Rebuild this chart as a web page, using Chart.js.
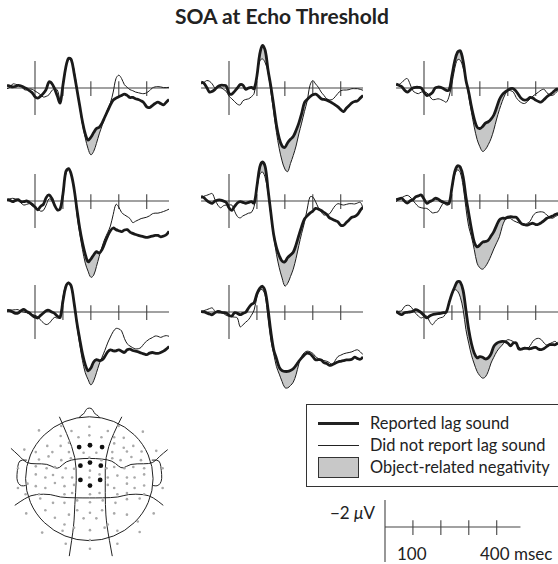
<!DOCTYPE html>
<html>
<head>
<meta charset="utf-8">
<script src="https://cdn.jsdelivr.net/npm/chart.js@4.4.1/dist/chart.umd.min.js"></script>
<style>
  body { margin: 0; width: 558px; height: 564px; overflow: hidden; background: #fff; position: relative;
         font-family: Lato, "Open Sans", sans-serif; color: #222; }
  canvas { position: absolute; }
  .txt { position: absolute; white-space: nowrap; line-height: 1; }
  #title { left: 0; width: 564px; top: 4.5px; text-align: center; font-weight: 700; font-size: 21px; }
  #legendBox { position: absolute; left: 306px; top: 404px; width: 270px; height: 81px; border: 1px solid #333; }
  .sw { position: absolute; left: 318px; width: 41px; background: #222; }
  .leg { left: 370px; font-size: 16.4px; }
</style>
</head>
<body>
<div id="title" class="txt">SOA at Echo Threshold</div>

<div id="legendBox"></div>
<div class="sw" style="top:421.5px;height:3px"></div>
<div class="sw" style="top:444.5px;height:1px"></div>
<div class="sw" style="top:457px;height:19px;background:#c8c8c8;border:1px solid #333;width:39px"></div>
<div class="txt leg" style="top:415px">Reported lag sound</div>
<div class="txt leg" style="top:437px">Did not report lag sound</div>
<div class="txt leg" style="top:459px">Object-related negativity</div>

<div class="txt" style="left:330px;top:504px;font-size:17px">&minus;2 <i>&mu;</i>V</div>
<div class="txt" style="left:397px;top:545px;font-size:17px">100</div>
<div class="txt" style="left:480px;top:545px;font-size:17px">400 msec</div>

<script>
// time axis (ms) shared by all panels
const times = [-100, -90, -80, -70, -60, -50, -40, -30, -20, -10,
  0, 10, 20, 30, 40, 50, 60, 70, 80, 90,
  100, 110, 120, 130, 140, 150, 160, 170, 180, 190,
  200, 210, 220, 230, 240, 250, 260, 270, 280, 290,
  300, 310, 320, 330, 340, 350, 360, 370, 380, 390,
  400, 410, 420, 430, 440, 450, 460, 470, 480];

// microvolts, negative plotted up
const reported1 = [-0.2,-0.15,-0.08,-0.12,-0.2,-0.15,-0.05,0.05,0.2,0.35, 0.65,0.75,0.6,0.4,0.1,-0.45,-0.35,0.05,0.6,1.1, -0.2,-1.5,-2.2,-2.1,-1.1,0.1,1.3,2.5,3.4,3.85, 3.65,3.3,3.0,2.9,2.6,2.15,1.7,1.25,0.9,0.75, 0.65,0.55,0.45,0.55,0.7,0.7,0.8,0.85,0.95,1.1, 1.4,1.45,1.3,1.15,1.05,1.15,1.25,1.05,0.85];
const notReported1 = [0.05,-0.05,-0.3,-0.28,-0.22,-0.15,0.1,0.15,0.07,0.1, 0.22,0.35,0.5,0.67,0.62,0.5,0.2,0.05,0.15,0.85, -0.1,-1.5,-2.15,-2.0,-1.3,0.0,1.4,2.7,3.7,4.5, 4.95,4.7,4.1,3.4,2.8,2.15,1.6,1.1,0.3,-0.7, -0.95,-0.7,-0.25,-0.05,0.12,0.2,0.3,0.35,0.4,0.42, 0.35,0.2,0.0,-0.08,-0.1,-0.08,-0.03,-0.03,-0.05];

const reported2 = [-0.45,-0.35,-0.05,0.3,0.25,0.1,-0.1,-0.2,-0.2,-0.15, 0.4,0.45,0.25,0.0,-0.25,-0.2,0.1,0.0,-0.05,0.05, -0.9,-2.5,-3.15,-2.75,-1.3,-0.1,1.3,2.75,3.75,4.3, 4.4,4.05,3.8,3.6,3.15,2.6,1.9,1.1,0.85,0.65, 0.5,0.45,0.6,0.8,0.85,0.9,1.0,1.12,1.25,1.4, 1.6,1.75,1.5,1.3,1.1,1.0,0.95,0.75,0.55];
const notReported2 = [-0.3,-0.4,-0.55,-0.5,-0.3,0.0,-0.1,-0.05,0.1,0.25, 0.6,0.8,1.0,1.2,1.25,0.95,0.85,0.8,0.65,0.4, -0.9,-2.0,-2.15,-1.85,-1.15,0.3,1.8,3.3,4.5,5.4, 6.0,6.2,5.6,5.0,4.3,3.4,2.6,1.75,0.95,-0.2, -0.55,-0.3,-0.05,0.3,0.55,0.8,0.88,0.85,0.65,0.4, 0.2,0.15,0.15,0.12,0.05,0.05,0.05,0.1,0.17];

const reported3 = [-0.3,-0.2,-0.1,0.15,0.3,0.15,0.0,-0.05,-0.05,0.0, 0.3,0.55,0.5,0.35,0.0,-0.07,-0.05,0.05,0.17,0.15, -0.9,-2.0,-2.65,-2.75,-2.0,-0.6,0.3,1.4,2.3,2.9, 3.0,2.85,2.6,2.5,2.3,2.0,1.45,0.85,0.5,0.3, 0.17,0.05,0.05,0.25,0.55,0.8,0.9,0.85,0.7,0.75, 0.9,1.0,1.04,0.85,0.65,0.5,0.35,0.15,0.05];
const notReported3 = [-0.2,-0.25,-0.4,-0.6,-0.7,-0.3,0.2,0.35,0.42,0.3, 0.3,0.35,0.6,0.85,0.85,0.8,0.85,0.95,1.05,0.6, -0.3,-1.45,-2.1,-2.05,-1.5,-0.7,0.6,1.8,2.9,3.8, 4.35,4.7,4.55,4.2,3.75,3.1,2.3,1.6,1.0,0.5, 0.2,0.2,0.3,0.7,0.95,1.1,1.15,1.0,0.8,0.6, 0.45,0.3,0.15,0.1,0.35,0.5,0.55,0.4,0.17];

const reported4 = [-0.12,-0.05,0.05,-0.05,-0.1,0.05,0.05,0.0,0.1,0.25, 0.45,0.65,0.4,0.25,-0.25,-0.45,-0.2,0.3,0.65,0.6, -0.5,-2.15,-2.4,-1.95,-0.9,0.6,2.0,3.1,3.95,4.5, 4.3,4.0,3.75,3.85,3.6,3.1,2.6,2.2,2.0,2.12, 2.2,2.27,2.15,2.12,2.3,2.4,2.48,2.55,2.6,2.65, 2.7,2.65,2.6,2.55,2.55,2.65,2.6,2.5,2.25];
const notReported4 = [-0.05,-0.15,-0.2,-0.15,-0.1,0.15,0.3,0.25,0.2,0.35, 0.5,0.6,0.75,0.7,0.3,-0.15,-0.05,0.3,0.65,0.5, -0.7,-1.95,-2.35,-1.9,-0.9,1.0,2.4,3.6,4.6,5.2, 5.65,5.5,4.85,4.1,3.4,2.8,2.35,1.85,1.0,0.25, 0.45,0.85,1.02,1.15,1.3,1.6,1.5,1.4,1.3,1.25, 1.2,1.1,0.95,0.9,0.9,0.85,0.78,0.7,0.6];

const reported5 = [-0.35,-0.25,-0.05,0.1,0.17,0.0,-0.07,-0.07,0.0,0.1, 0.5,0.7,0.4,0.15,0.05,0.1,0.17,0.1,0.05,0.15, -1.1,-2.5,-2.9,-2.5,-0.8,0.9,2.5,3.45,4.05,4.45, 4.5,4.2,4.0,3.8,3.25,2.55,1.9,1.35,1.1,0.9, 0.75,0.55,0.6,0.7,0.85,1.0,1.25,1.35,1.45,1.55, 1.8,1.8,1.6,1.4,1.2,1.15,1.0,0.7,0.45];
const notReported5 = [-0.2,-0.35,-0.42,-0.5,-0.55,-0.1,0.3,0.5,0.35,0.3, 0.3,0.3,0.75,1.15,1.25,1.1,1.0,0.9,0.85,0.4, -0.95,-1.95,-2.15,-1.7,-0.6,1.1,2.6,3.95,4.95,5.7, 6.3,6.1,5.6,5.05,4.25,3.3,2.4,1.6,0.6,-0.3, -0.3,0.05,0.5,0.8,1.04,1.0,0.95,0.65,0.35,0.2, 0.25,0.3,0.25,0.2,0.2,0.22,0.15,0.1,0.5];

const reported6 = [-0.1,-0.15,-0.2,0.0,0.15,0.0,-0.1,-0.3,-0.38,-0.44, -0.15,0.17,0.05,-0.05,-0.2,-0.15,0.0,0.1,0.17,0.17, -1.0,-2.15,-2.6,-2.5,-1.8,-0.32,0.9,2.1,3.05,3.4, 3.25,3.05,3.0,2.9,2.6,2.27,1.8,1.4,1.28,1.28, 1.2,1.16,1.2,1.2,1.45,1.7,1.75,1.78,1.7,1.65, 1.75,1.72,1.6,1.45,1.28,1.2,1.12,1.0,0.92];
const notReported6 = [0.05,-0.1,-0.25,-0.35,-0.42,-0.3,-0.05,0.2,0.42,0.5, 0.54,0.55,0.7,0.88,0.85,0.8,0.45,0.17,0.3,0.25, -0.9,-1.95,-2.3,-2.1,-1.1,0.5,1.9,2.65,3.6,4.6, 4.95,5.05,4.85,4.5,4.05,3.55,3.1,2.65,1.9,1.4, 1.28,1.3,1.45,1.55,1.63,1.7,1.78,1.65,1.5,1.1, 0.88,0.82,0.8,0.85,1.05,1.2,1.28,1.15,1.04];

const reported7 = [-0.12,-0.1,0.0,0.1,0.07,-0.1,-0.2,-0.05,0.07,0.25, 0.38,0.44,0.25,0.07,-0.1,-0.12,0.0,0.1,0.3,0.4, -0.8,-1.85,-2.15,-1.9,-0.67,0.8,2.0,3.1,3.9,4.35, 4.15,3.7,3.53,3.6,3.55,3.3,2.95,2.8,2.88,2.88, 2.8,2.9,3.0,2.8,2.75,2.85,2.9,2.95,3.04,3.1, 3.16,3.05,3.0,3.05,3.07,3.0,2.9,2.75,2.55];
const notReported7 = [-0.05,-0.12,-0.15,-0.17,-0.17,-0.05,0.0,0.05,0.15,0.2, 0.25,0.35,0.6,0.8,0.93,0.85,0.6,0.4,0.45,0.35, -1.1,-1.95,-2.2,-1.8,-0.6,1.0,2.4,3.6,4.5,5.0, 5.4,5.1,4.5,3.85,3.35,2.85,2.3,1.85,1.45,1.22, 1.25,1.4,1.95,2.35,2.52,2.65,2.73,2.72,2.62,2.35, 2.15,2.0,1.9,1.78,1.8,1.88,1.8,1.75,1.8];

const reported8 = [-0.05,0.0,0.07,0.15,0.2,0.05,-0.05,0.0,0.05,0.07, 0.25,0.3,0.05,0.1,0.2,0.1,0.02,-0.3,-0.55,-0.7, -1.35,-1.75,-1.9,-1.5,-0.17,1.5,2.8,3.45,4.1,4.35, 4.4,4.4,4.33,4.2,3.95,3.65,3.4,3.18,3.04,3.1, 3.3,3.53,3.53,3.55,3.75,3.82,3.95,3.9,3.8,3.7, 3.65,3.6,3.55,3.55,3.5,3.35,3.45,3.5,3.35];
const notReported8 = [0.0,-0.1,-0.17,-0.25,-0.3,-0.05,0.07,0.07,0.1,0.25, 0.3,0.35,0.38,0.44,1.1,0.95,0.75,0.57,0.25,-0.15, -1.1,-1.6,-1.65,-1.15,0.5,2.1,3.1,4.05,4.6,5.15, 5.6,5.62,5.45,5.2,4.65,3.85,3.3,3.0,2.9,2.95, 3.06,3.3,3.45,3.52,3.6,3.65,3.75,3.9,3.6,3.3, 3.2,3.1,3.04,3.0,2.95,2.85,2.8,2.95,3.16];

const reported9 = [-0.05,0.1,0.2,0.05,0.02,0.0,-0.05,-0.17,-0.1,0.05, 0.25,0.44,0.3,0.2,0.15,0.12,0.1,0.05,0.0,-0.7, -1.35,-1.85,-2.25,-2.2,-1.6,-0.17,1.3,2.35,3.05,3.4, 3.3,3.35,3.48,3.4,3.1,2.54,2.32,2.22,2.17,2.2, 2.3,2.5,2.3,2.3,2.75,2.75,2.67,2.7,2.72,2.65, 2.62,2.75,2.78,2.7,2.55,2.42,2.42,2.42,2.3];
const notReported9 = [-0.05,-0.05,-0.1,-0.4,-0.5,-0.45,-0.2,0.1,0.3,0.44, 0.35,0.3,0.7,0.94,0.7,0.5,0.42,0.35,0.0,-0.65, -1.35,-1.65,-1.55,-1.1,-0.2,1.3,2.3,3.2,3.85,4.4, 4.72,4.9,4.8,4.4,3.78,3.35,2.95,2.67,2.45,2.2, 2.05,2.1,2.2,2.4,2.6,2.75,2.75,2.7,2.5,2.17, 2.0,1.95,2.05,2.3,2.45,2.35,2.25,2.18,2.4];

const ornWindow = [100, 300];          // object-related negativity shading (ms)
const tickTimes = [100, 200, 300, 400];

// electrode positions on the head map (head radius = 1, y down)
const otherSites = [[-0.79,-0.78],[-0.44,-0.85],[-0.28,-0.77],[0,-0.84],[0.29,-0.77],[0.46,-0.85],[0.84,-0.76],
  [-0.45,-0.69],[-0.17,-0.67],[0,-0.7],[0.19,-0.67],[0.39,-0.67],[0.54,-0.66],
  [-0.66,-0.53],[-0.45,-0.53],[-0.32,-0.58],[0.39,-0.57],[0.54,-0.5],[0.69,-0.53],
  [-1.02,-0.47],[-0.84,-0.43],[-0.58,-0.43],[-0.32,-0.43],[-0.09,-0.42],[0.11,-0.42],[0.36,-0.43],[0.59,-0.44],[0.82,-0.44],[1.05,-0.45],
  [-0.79,-0.31],[-0.64,-0.36],[-0.44,-0.3],[-0.29,-0.33],[0,-0.34],[0.19,-0.3],[0.36,-0.33],[0.49,-0.3],[0.66,-0.35],[0.81,-0.3],
  [-1.12,-0.17],[-0.84,-0.2],[-0.67,-0.17],[-0.54,-0.19],[-0.37,-0.17],[-0.24,-0.16],[0.01,-0.13],[0.27,-0.17],[0.39,-0.19],[0.55,-0.17],[0.69,-0.19],[0.86,-0.17],[1.15,-0.17],
  [-0.84,-0.07],[-0.69,-0.02],[-0.57,-0.06],[-0.42,-0.02],[-0.27,-0.02],[0,-0.02],[0.16,-0.07],[0.29,-0.02],[0.44,-0.05],[0.59,-0.02],[0.71,-0.02],[0.86,-0.07],
  [-1.12,0.15],[-0.97,0.08],[-0.84,0.12],[-0.69,0.15],[-0.54,0.07],[-0.39,0.12],[-0.24,0.1],[0.29,0.1],[0.39,0.15],[0.59,0.08],[0.71,0.15],[0.86,0.11],[1.15,0.15],
  [-1.0,0.25],[-0.79,0.25],[-0.39,0.25],[-0.27,0.23],[0.01,0.25],[0.16,0.23],[0.44,0.25],[0.59,0.23],[0.86,0.25],
  [-0.77,0.32],[-0.57,0.39],[-0.39,0.39],[-0.19,0.35],[0.01,0.38],[0.21,0.35],[0.41,0.39],[0.59,0.33],[0.79,0.32],
  [-0.99,0.56],[-0.69,0.51],[-0.54,0.63],[-0.32,0.58],[-0.19,0.51],[0.01,0.55],[0.2,0.51],[0.39,0.56],[0.59,0.58],[1.01,0.56],
  [-0.39,0.74],[-0.09,0.64],[0.11,0.64],[0.29,0.74],[0.76,0.69],
  [-0.74,0.87],[-0.42,0.84],[-0.24,0.79],[0.01,0.83],[0.24,0.79],[0.44,0.84],[0.79,0.86],
  [-0.37,1.05],[0.01,0.99],[0.44,1.05],[0.01,1.13]];
const pooledSites = [[-0.16,-0.51],[0.01,-0.54],[0.2,-0.51],[-0.14,-0.21],[0.01,-0.26],[0.18,-0.21],[-0.14,0.02],[0.17,0.02],[0.01,0.11]];

// head outline pieces
const nose = [[-0.16,-0.98],[-0.14,-1.02],[-0.09,-1.04],[-0.06,-1.1],[-0.03,-1.14],[0.03,-1.14],[0.06,-1.1],[0.09,-1.04],[0.14,-1.02],[0.16,-0.98]];
const earLeft = [[-0.98,-0.3],[-1.065,-0.31],[-1.115,-0.26],[-1.13,-0.13],[-1.14,0.0],[-1.115,0.08],[-1.065,0.12],[-1.0,0.11]];
const earRight = [[0.98,-0.3],[1.065,-0.31],[1.115,-0.26],[1.13,-0.13],[1.14,0.0],[1.115,0.08],[1.065,0.12],[1.0,0.11]];
const meridianLeft = [[-0.47,-1.0],[-0.34,-0.7],[-0.215,-0.34],[-0.2,0.02],[-0.23,0.43],[-0.24,0.74],[-0.315,1.25]];
const meridianRight = [[0.51,-1.0],[0.36,-0.7],[0.25,-0.34],[0.25,0.02],[0.25,0.43],[0.27,0.74],[0.36,1.25]];
const upperBand = [[-1.23,-0.49],[-1.1,-0.37],[-0.99,-0.25],[-0.84,-0.24],[-0.66,-0.24],[-0.54,-0.17],[-0.47,-0.17],[-0.37,-0.28],[-0.2,-0.32],[0,-0.33],[0.2,-0.32],[0.36,-0.29],[0.46,-0.2],[0.53,-0.16],[0.64,-0.24],[0.86,-0.24],[1.0,-0.25],[1.1,-0.36],[1.23,-0.47]];
const lowerBand = [[-1.17,0.43],[-0.99,0.3],[-0.84,0.25],[-0.6,0.25],[-0.47,0.3],[-0.2,0.31],[0,0.31],[0.2,0.31],[0.46,0.3],[0.6,0.25],[0.86,0.25],[1.0,0.3],[1.16,0.43]];

const panels = [
  [reported1, notReported1], [reported2, notReported2], [reported3, notReported3],
  [reported4, notReported4], [reported5, notReported5], [reported6, notReported6],
  [reported7, notReported7], [reported8, notReported8], [reported9, notReported9]
];

// layout (px)
const pxPerMs = 0.2793, pxPerUv = 13.5;
const colOrigins = [35, 229, 424];
const rowBaselines = [88, 201, 312];
const tMin = -100, tMax = 480, vMin = -3.5, vMax = 7;

const axesPlugin = {
  id: 'erpAxes',
  beforeDatasetsDraw(chart, args, o) {
    const { ctx, scales: { x, y } } = chart;
    ctx.save();
    ctx.strokeStyle = '#444';
    ctx.lineWidth = 1.1;
    ctx.beginPath();
    ctx.moveTo(x.getPixelForValue(o.h[0]), y.getPixelForValue(0));
    ctx.lineTo(x.getPixelForValue(o.h[1]), y.getPixelForValue(0));
    ctx.moveTo(x.getPixelForValue(0), y.getPixelForValue(o.v[0]));
    ctx.lineTo(x.getPixelForValue(0), y.getPixelForValue(o.v[1]));
    tickTimes.forEach(t => {
      ctx.moveTo(x.getPixelForValue(t), y.getPixelForValue(-0.5));
      ctx.lineTo(x.getPixelForValue(t), y.getPixelForValue(0.6));
    });
    ctx.stroke();
    ctx.restore();
  }
};

function makeCanvas(left, top, w, h) {
  const c = document.createElement('canvas');
  c.width = w; c.height = h;
  c.style.left = left + 'px'; c.style.top = top + 'px';
  document.body.appendChild(c);
  return c;
}

const baseOptions = (xr, yr, extra) => ({
  responsive: false, animation: false, events: [], devicePixelRatio: 1,
  layout: { padding: 0 },
  scales: {
    x: { type: 'linear', min: xr[0], max: xr[1], display: false },
    y: { type: 'linear', min: yr[0], max: yr[1], reverse: true, display: false }
  },
  plugins: Object.assign({ legend: { display: false }, tooltip: { enabled: false } }, extra)
});

panels.forEach(([rep, notRep], i) => {
  const ox = colOrigins[i % 3], oy = rowBaselines[Math.floor(i / 3)];
  const w = Math.round((tMax - tMin) * pxPerMs), h = Math.round((vMax - vMin) * pxPerUv);
  const left = Math.round(ox + tMin * pxPerMs), top = Math.round(oy + vMin * pxPerUv);
  const x0 = tMin + ((left - (ox + tMin * pxPerMs)) / pxPerMs);
  const y0 = vMin + ((top - (oy + vMin * pxPerUv)) / pxPerUv);
  const canvas = makeCanvas(left, top, w, h);
  const pts = vals => times.map((t, k) => ({ x: t, y: vals[k] }));
  const orn = times.map((t, k) => ({ x: t, y: rep[k] })).filter(p => p.x >= ornWindow[0] && p.x <= ornWindow[1]);
  new Chart(canvas, {
    type: 'line',
    data: {
      datasets: [
        { data: pts(rep), borderColor: '#1a1a1a', borderWidth: 2.8, pointRadius: 0, tension: 0.35, fill: false, clip: false },
        { data: pts(notRep), borderColor: '#1a1a1a', borderWidth: 1, pointRadius: 0, tension: 0.35, fill: false, clip: false },
        { data: orn, borderWidth: 0, borderColor: 'rgba(0,0,0,0)', pointRadius: 0, tension: 0.35,
          fill: { target: 1, above: '#c6c7c7', below: 'rgba(0,0,0,0)' } }
      ]
    },
    options: baseOptions([x0, x0 + w / pxPerMs], [y0, y0 + h / pxPerUv], { erpAxes: { h: [tMin, tMax], v: [-2, 2] } }),
    plugins: [axesPlugin]
  });
});

// calibration bar
(() => {
  const ox = 385, oy = 527, left = 360, top = 490, w = 200, h = 74;
  const x0 = (left - ox) / pxPerMs, y0 = (top - oy) / pxPerUv;
  new Chart(makeCanvas(left, top, w, h), {
    type: 'line',
    data: { datasets: [] },
    options: baseOptions([x0, x0 + w / pxPerMs], [y0, y0 + h / pxPerUv], { erpAxes: { h: [0, 485], v: [-2, 2.6] } }),
    plugins: [axesPlugin]
  });
})();

// head map
const headPlugin = {
  id: 'headOutline',
  beforeDatasetsDraw(chart) {
    const { ctx, scales: { x, y } } = chart;
    const P = p => [x.getPixelForValue(p[0]), y.getPixelForValue(p[1])];
    const curve = arr => {
      const q = arr.map(P);
      ctx.moveTo(q[0][0], q[0][1]);
      for (let i = 1; i < q.length - 1; i++) {
        ctx.quadraticCurveTo(q[i][0], q[i][1], (q[i][0] + q[i + 1][0]) / 2, (q[i][1] + q[i + 1][1]) / 2);
      }
      ctx.lineTo(q[q.length - 1][0], q[q.length - 1][1]);
    };
    ctx.save();
    ctx.strokeStyle = '#222';
    ctx.lineWidth = 1;
    ctx.beginPath();
    const c = P([0, 0]);
    ctx.ellipse(c[0], c[1], x.getPixelForValue(1) - c[0], y.getPixelForValue(1) - c[1], 0, 0, Math.PI * 2);
    ctx.stroke();
    [nose, earLeft, earRight, meridianLeft, meridianRight, upperBand, lowerBand].forEach(a => {
      ctx.beginPath(); curve(a); ctx.stroke();
    });
    ctx.restore();
  }
};

(() => {
  const left = 0, top = 394, w = 180, h = 170;
  const cx = 89.3, cy = 478.7, ux = 66.7, uy = 65;
  const xr = [(left - cx) / ux, (left + w - cx) / ux];
  const yr = [(top - cy) / uy, (top + h - cy) / uy];
  const toPts = a => a.map(p => ({ x: p[0], y: p[1] }));
  new Chart(makeCanvas(left, top, w, h), {
    type: 'scatter',
    data: {
      datasets: [
        { data: toPts(pooledSites), pointRadius: 2.4, backgroundColor: '#111', borderWidth: 0 },
        { data: toPts(otherSites), pointRadius: 1.3, backgroundColor: '#a9a9a9', borderWidth: 0 }
      ]
    },
    options: baseOptions(xr, yr, {}),
    plugins: [headPlugin]
  });
})();
</script>
</body>
</html>
